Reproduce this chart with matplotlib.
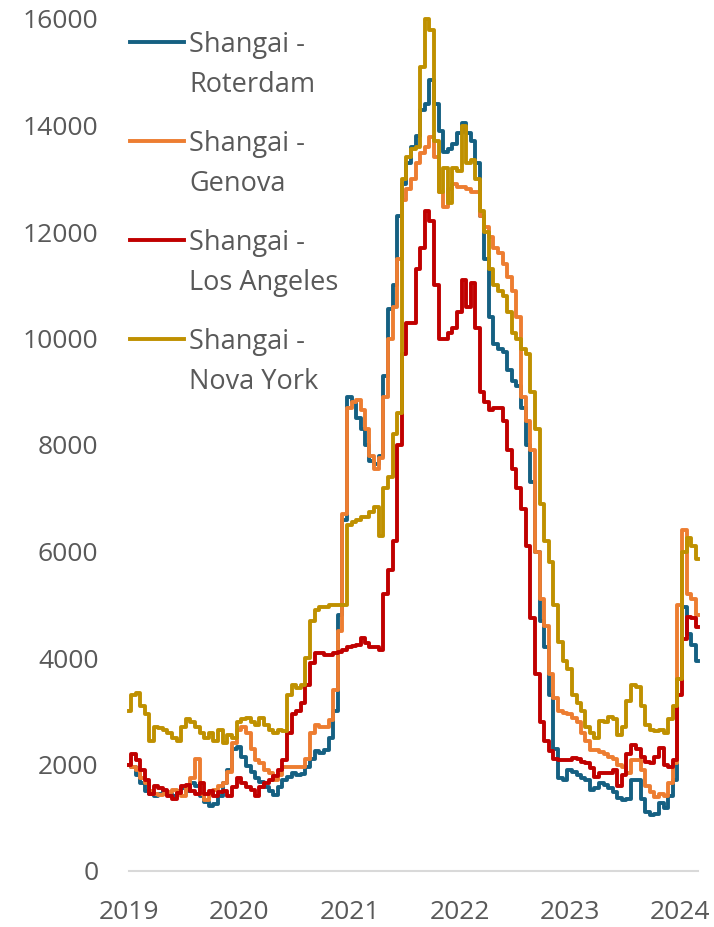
import matplotlib
matplotlib.use("Agg")
import matplotlib.pyplot as plt
import matplotlib.dates as mdates
from matplotlib.lines import Line2D
import pandas as pd

# fretes semanais (amostra quinzenal), USD por contentor
datas = pd.date_range("2019-01-01", periods=125, freq="SMS")

roterdam = [2000, 1950, 1800, 1650, 1500, 1450, 1400, 1450, 1500, 1450,
            1400, 1500, 1550, 1500, 1650, 1600, 1400, 1300, 1220, 1250,
            1400, 1650, 1900, 2300, 2330, 2150, 1980, 1850, 1750, 1680,
            1580, 1500, 1430, 1580, 1700, 1770, 1840, 1800, 1820, 1950,
            2100, 2250, 2220, 2270, 2500, 3000, 4800, 6600, 8900, 8800,
            8500, 8300, 8000, 7700, 7650, 7800, 9300, 10550, 11000, 12300,
            12900, 13300, 13600, 13800, 14300, 14400, 14850, 14400, 13900, 13500,
            13550, 13650, 13850, 14050, 13850, 13700, 13300, 12300, 11500, 10400,
            9900, 9800, 9750, 9400, 9200, 9100, 8700, 8000, 7300, 6000,
            4700, 4200, 3300, 2300, 1750, 1710, 1900, 1850, 1800, 1750,
            1700, 1520, 1550, 1650, 1620, 1550, 1480, 1380, 1330, 1360,
            1700, 1700, 1350, 1100, 1050, 1070, 1280, 1180, 1400, 1700,
            3600, 4950, 4450, 4250, 3950]

genova = [2000, 1950, 1900, 1750, 1650, 1500, 1450, 1430, 1450, 1480,
          1520, 1480, 1400, 1550, 1750, 2100, 1450, 1330, 1450, 1520,
          1600, 1650, 1850, 2400, 2650, 2700, 2600, 2300, 2080, 2030,
          1900, 1840, 1710, 1800, 1950, 1950, 1950, 1950, 1950, 2100,
          2600, 2750, 2700, 2700, 2840, 3400, 4500, 6700, 8700, 8800,
          8850, 8650, 8300, 7800, 7550, 7750, 8900, 10000, 10600, 11500,
          12600, 12800, 13000, 13300, 13480, 13600, 13780, 13400, 12750, 12470,
          12800, 12900, 12850, 12850, 12800, 12750, 12750, 12300, 12100, 11900,
          11700, 11600, 11400, 11150, 10900, 10400, 8900, 8450, 7900, 6000,
          5100, 4600, 3700, 3250, 3000, 2970, 2950, 2880, 2800, 2600,
          2450, 2270, 2270, 2240, 2200, 2150, 2100, 2000, 1950, 1840,
          2080, 2080, 1900, 1600, 1480, 1390, 1450, 1400, 1650, 2030,
          5000, 6400, 5200, 5100, 4800]

los_angeles = [2000, 2200, 2080, 1900, 1700, 1450, 1600, 1560, 1520, 1400,
               1350, 1460, 1600, 1620, 1500, 1450, 1650, 1450, 1500, 1400,
               1480, 1500, 1400, 1580, 1750, 1650, 1580, 1520, 1400, 1580,
               1650, 1710, 1780, 1900, 2080, 2600, 2950, 3000, 3150, 3500,
               3900, 4090, 4090, 4060, 4060, 4090, 4110, 4150, 4200, 4220,
               4250, 4380, 4280, 4200, 4200, 4150, 5200, 5650, 6200, 8000,
               9700, 10300, 10300, 11300, 11700, 12400, 12200, 11000, 10000, 10000,
               10100, 10200, 10500, 11100, 10600, 11050, 10200, 9000, 8800, 8650,
               8700, 8700, 8450, 7900, 7550, 7200, 6800, 6100, 4750, 3700,
               2800, 2450, 2250, 2100, 2080, 2080, 2080, 2130, 2100, 2050,
               2030, 1930, 1770, 1840, 1840, 1840, 1900, 1600, 1800, 2200,
               2370, 2300, 2150, 2050, 2030, 2150, 2310, 2000, 1950, 2080,
               3300, 4350, 4770, 4750, 4580]

nova_york = [3000, 3300, 3350, 3100, 2950, 2450, 2700, 2680, 2650, 2600,
             2500, 2450, 2700, 2850, 2800, 2700, 2600, 2500, 2600, 2450,
             2650, 2400, 2550, 2500, 2800, 2850, 2870, 2800, 2750, 2880,
             2750, 2650, 2600, 2650, 2620, 3300, 3500, 3430, 3500, 4000,
             4700, 4900, 4950, 4960, 5000, 5000, 5000, 5000, 6500, 6550,
             6600, 6650, 6650, 6750, 6840, 6300, 7200, 7400, 8200, 8600,
             13000, 13400, 13550, 13600, 15100, 16000, 15800, 13700, 12750, 13200,
             12550, 13200, 13150, 14000, 13300, 13350, 13000, 12400, 12000, 11300,
             11000, 10900, 10800, 10500, 10100, 10000, 9800, 9700, 9000, 8300,
             6900, 6200, 5800, 5000, 4300, 3950, 3800, 3300, 3150, 3000,
             2700, 2600, 2500, 2820, 2800, 2900, 2850, 2550, 2700, 3200,
             3500, 3450, 3100, 2750, 2650, 2620, 2650, 2600, 2850, 3100,
             3600, 6000, 6250, 6100, 5850]

rotas = ["Shangai -\nRoterdam", "Shangai -\nGenova", "Shangai -\nLos Angeles", "Shangai -\nNova York"]
cores = ["#156082", "#ED7D31", "#C00000", "#BF9000"]
anos = [2019, 2020, 2021, 2022, 2023, 2024]

plt.rcParams["font.family"] = ["Open Sans", "DejaVu Sans"]
cinza = "#595959"

W, H = 714, 927
fig = plt.figure(figsize=(W / 100, H / 100), dpi=100)
ax = fig.add_axes([129 / W, 1 - 871 / H, 569 / W, 852 / H])

for serie, cor in zip([roterdam, genova, los_angeles, nova_york], cores):
    ax.plot(datas, serie, color=cor, lw=2.8, drawstyle="steps-mid", clip_on=False)

ax.set_ylim(0, 16000)
ax.set_yticks(range(0, 16001, 2000))
ax.set_xlim(datas[0], datas[-1])
ax.set_xticks(pd.to_datetime([f"{a}-01-01" for a in anos]))
ax.xaxis.set_major_formatter(mdates.DateFormatter("%Y"))
for s in ["top", "right", "left"]:
    ax.spines[s].set_visible(False)
ax.spines["bottom"].set_color("#D9D9D9")
ax.spines["bottom"].set_linewidth(1.5)
ax.tick_params(length=0, labelsize=19, labelcolor=cinza)
ax.tick_params(axis="y", pad=22)
ax.tick_params(axis="x", pad=21)

# legenda feita a mao (linha alinhada com a primeira linha do texto)
for i, (rota, cor) in enumerate(zip(rotas, cores)):
    y = 42 + 99 * i
    fig.add_artist(Line2D([130 / W, 184 / W], [1 - y / H] * 2, color=cor, lw=2.8))
    for j, parte in enumerate(rota.split("\n")):
        fig.text(189 / W, 1 - (y + 10 + 40 * j) / H, parte, fontsize=19.5,
                 color=cinza, va="baseline", ha="left")

fig.savefig("out.png", dpi=100)
